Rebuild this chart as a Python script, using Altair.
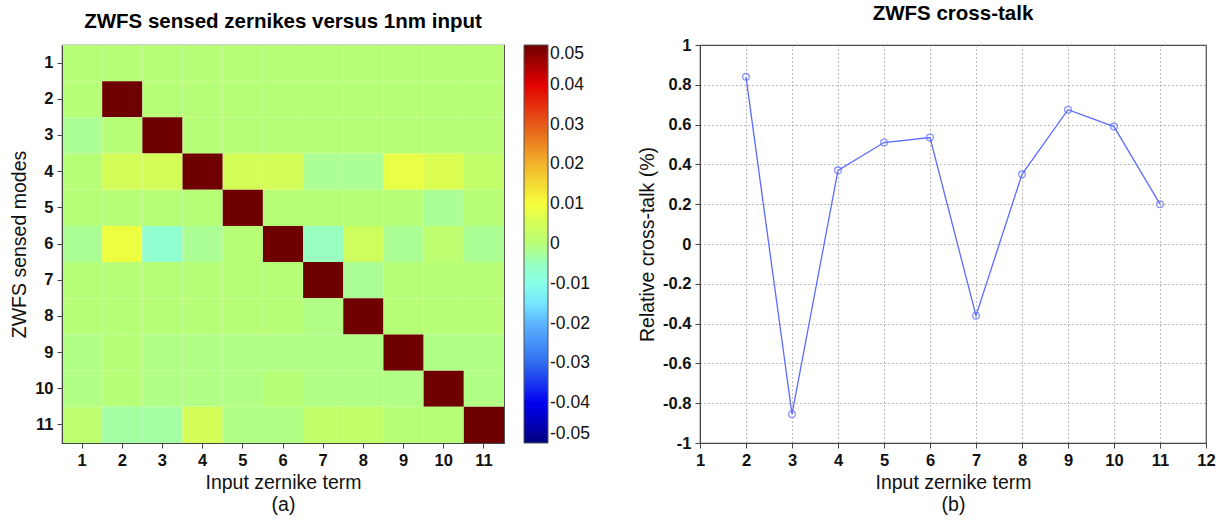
import altair as alt
import pandas as pd

# ---- data: heatmap (rows = sensed mode 1..11, columns = input term 1..11)
modes = list(range(1, 12))
row1 = [0, 0, 0, 0, 0, 0, 0, 0, 0, 0, 0]
row2 = [0, 0.05, 0, 0, 0, 0, 0, 0, 0, 0, 0]
row3 = [-0.002, 0, 0.05, 0, 0, 0, 0, 0, 0, 0, 0]
row4 = [0, 0.005, 0.005, 0.05, 0.005, 0.005, -0.002, -0.002, 0.008, 0.006, 0.002]
row5 = [0, 0, 0, 0, 0.05, 0, 0, 0, 0, -0.002, 0]
row6 = [-0.002, 0.009, -0.007, -0.002, 0, 0.05, -0.005, 0.004, -0.002, 0.001, -0.002]
row7 = [0, 0, 0, 0, 0, 0, 0.05, -0.002, 0, 0, 0]
row8 = [0, 0, 0, 0, 0, 0, -0.001, 0.05, 0, 0, 0]
row9 = [-0.001, 0, -0.001, -0.001, -0.001, -0.001, -0.001, -0.001, 0.05, -0.001, -0.001]
row10 = [-0.001, 0, -0.001, -0.001, -0.001, 0, -0.001, -0.001, -0.001, 0.05, -0.001]
row11 = [0.001, -0.003, -0.003, 0.005, -0.001, -0.001, 0.002, 0.002, 0, 0, 0.05]
rows = [row1, row2, row3, row4, row5, row6, row7, row8, row9, row10, row11]

# ---- data: cross-talk line
terms = [2, 3, 4, 5, 6, 7, 8, 9, 10, 11]
crosstalk = [0.84, -0.855, 0.37, 0.51, 0.535, -0.36, 0.35, 0.675, 0.59, 0.2]

colorbar_ticks = [-0.05, -0.04, -0.03, -0.02, -0.01, 0, 0.01, 0.02, 0.03, 0.04, 0.05]
x_ticks = list(range(1, 13))
y_ticks = [-1, -0.8, -0.6, -0.4, -0.2, 0, 0.2, 0.4, 0.6, 0.8, 1]

hm = pd.DataFrame(
    [{"input": c, "sensed": r, "value": rows[r - 1][c - 1]} for r in modes for c in modes]
)
line_df = pd.DataFrame({"term": terms, "crosstalk": crosstalk})

FONT = "Liberation Sans"
HYPHEN_LABEL = "datum.value < 0 ? '-' + format(-datum.value, '~g') : format(datum.value, '~g')"

jet_domain = [-0.05, -0.04, -0.03, -0.02, -0.0125, -0.005, 0, 0.005, 0.01, 0.02, 0.03, 0.04, 0.05]
jet_range = ["#00007f", "#0000f0", "#2f6cef", "#5cb4ff", "#80ffff", "#98ffc0", "#b8ff78",
             "#d4fd58", "#f5ff3c", "#f2b42c", "#e65a18", "#e30000", "#6e0000"]

heat = alt.Chart(hm).mark_rect(stroke=None).encode(
    x=alt.X("input:O", sort=modes,
            axis=alt.Axis(title=["Input zernike term", "(a)"], labelAngle=0)),
    y=alt.Y("sensed:O", sort=modes, axis=alt.Axis(title="ZWFS sensed modes")),
    color=alt.Color("value:Q",
                    scale=alt.Scale(domain=jet_domain, range=jet_range, clamp=True,
                                    interpolate="rgb"),
                    legend=alt.Legend(title=None, values=colorbar_ticks,
                                      labelExpr=HYPHEN_LABEL,
                                      gradientLength=398, gradientThickness=24,
                                      gradientStrokeColor="#555", gradientStrokeWidth=1,
                                      labelFontSize=17.5, labelFont=FONT, labelColor="#111",
                                      offset=20, labelOffset=2, direction="vertical")),
).properties(
    width=442, height=398,
    title=alt.TitleParams("ZWFS sensed zernikes versus 1nm input", fontSize=20.5,
                          font=FONT, fontWeight="bold", frame="group", offset=13),
)

base = alt.Chart(line_df).encode(
    x=alt.X("term:Q", scale=alt.Scale(domain=[1, 12], nice=False),
            axis=alt.Axis(values=x_ticks, title=["Input zernike term", "(b)"],
                          format="d", grid=True, labelFlush=False)),
    y=alt.Y("crosstalk:Q", scale=alt.Scale(domain=[-1, 1], nice=False),
            axis=alt.Axis(values=y_ticks, title="Relative cross-talk (%)",
                          labelExpr=HYPHEN_LABEL, grid=True, labelFlush=False)),
)
line = base.mark_line(color="#5b6cff", strokeWidth=1.3)
pts = base.mark_point(shape="circle", filled=False, color="#5b6cff", size=45, strokeWidth=1.3)

right = alt.layer(line, pts).properties(
    width=506, height=398,
    title=alt.TitleParams("ZWFS cross-talk", fontSize=20.5, font=FONT,
                          fontWeight="bold", frame="group", offset=13),
)

chart = alt.hconcat(heat, right, spacing=45).resolve_legend(
    color="independent"
).resolve_scale(color="independent").configure_view(
    stroke="#444", strokeWidth=1.2
).configure_axis(
    labelFont=FONT, titleFont=FONT, labelFontSize=16.5, labelFontWeight="bold",
    titleFontSize=19.5, titleFontWeight="normal", labelColor="#111", titleColor="#111",
    domainColor="#444", tickColor="#444", labelPadding=4,
    gridColor="#777", gridDash=[1, 3], gridWidth=1, titlePadding=5,
).properties(
    padding={"left": 9, "top": 2, "right": 2, "bottom": 2},
    background="white",
)

chart.save("out.html", embed_options={"renderer": "svg", "actions": False})
